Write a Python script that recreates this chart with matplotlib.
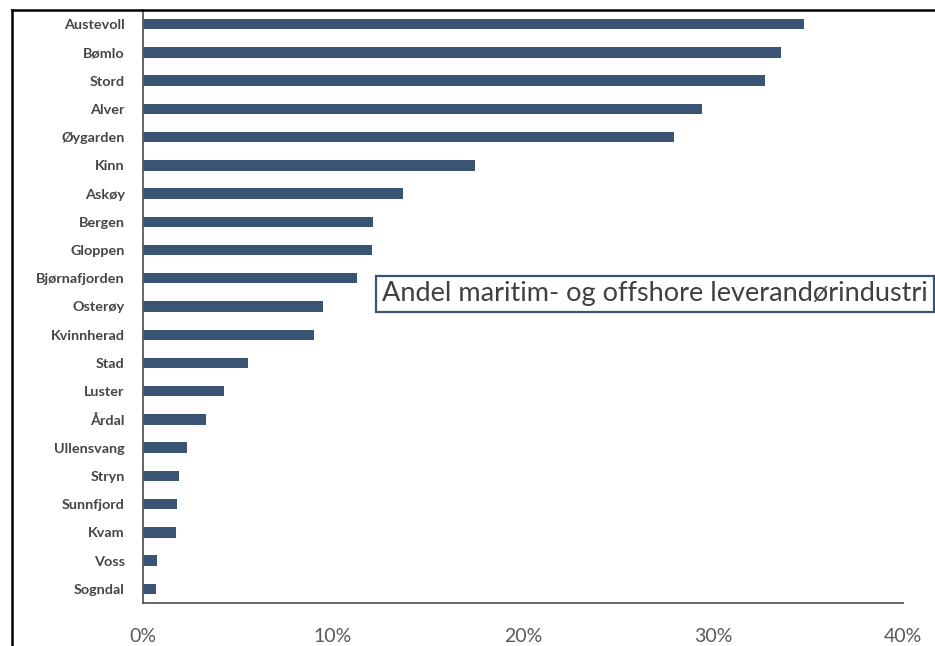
import numpy as np
import matplotlib
matplotlib.use('Agg')
import matplotlib.pyplot as plt
from matplotlib.lines import Line2D
from matplotlib.ticker import PercentFormatter

kommuner = ['Austevoll', 'Bømlo', 'Stord', 'Alver', 'Øygarden', 'Kinn', 'Askøy',
            'Bergen', 'Gloppen', 'Bjørnafjorden', 'Osterøy', 'Kvinnherad', 'Stad',
            'Luster', 'Årdal', 'Ullensvang', 'Stryn', 'Sunnfjord', 'Kvam', 'Voss',
            'Sogndal']
andel = [34.8, 33.6, 32.75, 29.4, 27.95, 17.5, 13.7, 12.1, 12.05, 11.3, 9.5,
         9.0, 5.55, 4.3, 3.33, 2.33, 1.93, 1.79, 1.75, 0.74, 0.68]
xticks = [0, 10, 20, 30, 40]
tittel = 'Andel maritim- og offshore leverandørindustri'

plt.rcParams['font.family'] = ['Lato', 'DejaVu Sans']

fig = plt.figure(figsize=(9.35, 6.46), dpi=100)
ax = fig.add_axes([142.7/935, 1-603/646, (903-142.7)/935, (603-10)/646])

y = np.arange(len(kommuner))
ax.barh(y, andel, height=0.37, color='#3A5573')
ax.set_ylim(len(kommuner)-0.5, -0.5)
ax.set_xlim(0, 40)
ax.set_yticks(y)
ax.set_yticklabels(kommuner, fontsize=10.4, fontweight='bold', color='#454545')
ax.set_xticks(xticks)
ax.xaxis.set_major_formatter(PercentFormatter(decimals=0))
ax.tick_params(axis='x', length=0, pad=18, labelsize=14, labelcolor='#595959')
ax.tick_params(axis='y', length=0, pad=13)

for s in ['top', 'right']:
    ax.spines[s].set_visible(False)
for s in ['left', 'bottom']:
    ax.spines[s].set_color('#595959')
    ax.spines[s].set_linewidth(1.3)

# outer frame (cropped)
fig.add_artist(Line2D([12/935, 12/935], [0, 1-10/646], color='black', lw=1.8))
fig.add_artist(Line2D([12/935, 1], [1-10/646, 1-10/646], color='black', lw=1.8))

fig.text(382/935, 1-294/646, tittel, fontsize=19.5, color='#404040', va='center', ha='left',
         bbox=dict(boxstyle='square,pad=0.22', fc='white', ec='#3A5573', lw=1.6))

plt.savefig('out.png', dpi=100)
plt.close()
